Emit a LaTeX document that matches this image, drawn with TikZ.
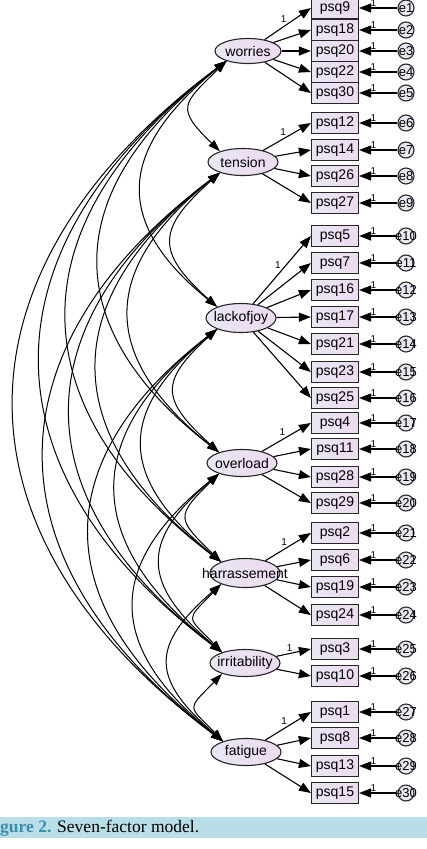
\documentclass[tikz,border=0pt]{standalone}
\usepackage{fontspec}
\setmainfont{Liberation Sans}
\newfontfamily\capfont{Liberation Serif}
\usetikzlibrary{shapes.geometric,arrows.meta,calc}

\definecolor{latfill}{HTML}{E8E7F2}
\definecolor{latpink}{HTML}{EEDAF1}
\definecolor{capband}{HTML}{B8DEE8}
\definecolor{capblue}{HTML}{3A8DAE}

\begin{document}
\begin{tikzpicture}[
    x=1pt, y=-1pt,
    font=\fontsize{14}{16}\selectfont,
    lat/.style={ellipse, draw=black!85, line width=1.1pt, left color=latfill, right color=latpink,
      minimum width=70pt, minimum height=27pt, inner sep=0pt, label={center:#1}},
    obs/.style={rectangle, draw=black!85, line width=1.2pt, left color=latfill, right color=latpink,
      minimum width=47pt, minimum height=21pt, inner sep=0pt},
    err/.style={circle, draw=black!85, line width=1.1pt, fill=latfill, minimum size=16pt,
      inner sep=0pt, label={[font=\fontsize{13}{14}\selectfont]center:#1}},
    lbl/.style={font=\fontsize{10}{11}\selectfont, inner sep=1pt},
    lo/.style={-{Triangle[length=12pt, width=9pt]}, line width=1.1pt},
    cov/.style={{Triangle[length=12pt, width=8pt]}-{Triangle[length=12pt, width=8pt]}, line width=1pt}
  ]
  \useasboundingbox (0,0) rectangle (427,849);

  % latent factors
  \node[lat=worries, minimum width=66pt, minimum height=25pt] (worries) at (248,51) {};
  \node[lat=tension] (tension) at (243,162) {};
  \node[lat=lackofjoy, minimum height=29pt] (lackofjoy) at (241,318) {};
  \node[lat=overload] (overload) at (242,463) {};
  \node[lat=harrassement, minimum height=29pt] (harrassement) at (245,573) {};
  \node[lat=irritability] (irritability) at (245,663) {};
  \node[lat=fatigue] (fatigue) at (246,752) {};

  % items, errors, loadings
  \foreach \f/\items in {worries/{9/8/1,18/30/2,20/51/3,22/72/4,30/93/5},
      tension/{12/123/6,14/150/7,26/176/8,27/203/9},
      lackofjoy/{5/236/10,7/263/11,16/290/12,17/317/13,21/344/14,23/372/15,25/398/16},
      overload/{4/423/17,11/449/18,28/477/19,29/503/20},
      harrassement/{2/533/21,6/560/22,19/587/23,24/615/24},
      irritability/{3/649/25,10/676/26},
      fatigue/{1/712/27,8/738/28,13/766/29,15/793/30}}
    \foreach \q/\yy/\e in \items {
      \node[obs] (psq\q) at (335,\yy) {psq\q};
      \node[err=e\e] (e\e) at (406,\yy) {};
      \draw[lo] (e\e) -- node[lbl, pos=0.63, above]{1} (psq\q.east);
      \draw[lo] (\f) -- (psq\q.west);
    }

  % fixed loadings
  \foreach \f/\q in {worries/9, tension/12, lackofjoy/5, overload/4, harrassement/2, irritability/3, fatigue/1}
    \path (\f) -- node[lbl, pos=0.5, above left] {1} (psq\q.west);

  % covariances
  \foreach \a/\rest in {worries/{tension,lackofjoy,overload,harrassement,irritability,fatigue},
      tension/{lackofjoy,overload,harrassement,irritability,fatigue},
      lackofjoy/{overload,harrassement,irritability,fatigue},
      overload/{harrassement,irritability,fatigue},
      harrassement/{irritability,fatigue},
      irritability/{fatigue}}
    \foreach \b in \rest
      \draw[cov] let \p1=(\a), \p2=(\b), \n1={\y1-\y2} in
        (\a.205) .. controls +(-0.4*\n1, -0.28*\n1-12pt) and +(-0.4*\n1, 0.28*\n1+12pt) .. (\b.155);

  % caption
  \fill[capband] (0,817) rectangle (427,838);
  \node[anchor=west, inner sep=0pt, font=\capfont\fontsize{17.5}{19}\selectfont] (cap) at (0,828)
    {\textcolor{capblue}{\textbf{gure 2.}} Seven-factor model.};
\end{tikzpicture}
\end{document}
